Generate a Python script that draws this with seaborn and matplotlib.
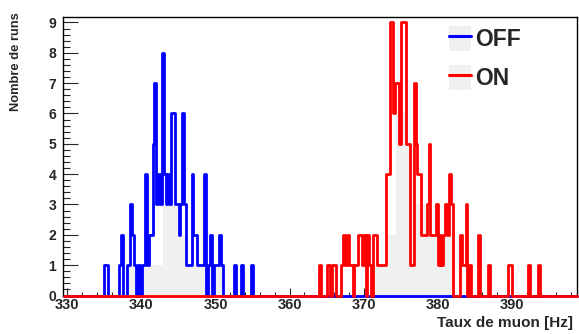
import numpy as np
import pandas as pd
import matplotlib.pyplot as plt
import seaborn as sns
from matplotlib.patches import Patch
from matplotlib.lines import Line2D
from matplotlib.ticker import MultipleLocator

# fine histograms: lower bin edge (Hz) and number of runs, 0.25 Hz bins
off_edge = [335.0, 335.25, 337.0, 337.25, 338.0, 338.25, 338.5, 338.75,
            339.0, 339.5, 340.0, 340.25, 340.5, 340.75,
            341.0, 341.25, 341.5, 341.75, 342.0, 342.25, 342.5, 342.75,
            343.0, 343.25, 343.5, 343.75, 344.0, 344.25, 344.5, 344.75,
            345.0, 345.25, 345.5, 345.75, 346.0, 346.25, 346.5, 346.75,
            347.0, 347.25, 347.5, 347.75, 348.0, 348.25, 348.5,
            349.0, 349.25, 349.75, 350.0, 350.25, 350.5, 350.75,
            352.5, 353.5, 354.75]
off_n = [1, 1, 1, 2, 1, 1, 3, 2,
         1, 1, 1, 1, 4, 1,
         2, 2, 5, 7, 3, 4, 3, 8,
         4, 3, 4, 3, 6, 6, 3, 3,
         2, 3, 6, 3, 1, 1, 1, 4,
         2, 2, 1, 1, 1, 1, 4,
         1, 2, 1, 1, 1, 2, 1,
         1, 1, 1]

on_edge = [364.0, 365.0, 365.25, 365.75, 366.0,
           367.0, 367.25, 367.5, 367.75, 368.0, 368.25, 368.75,
           369.0, 369.25, 369.5, 369.75, 370.0, 370.5, 370.75, 371.25, 371.5,
           371.75, 372.0, 372.25, 372.5, 372.75,
           373.0, 373.25, 373.5, 373.75, 374.0, 374.25, 374.5, 374.75,
           375.0, 375.25, 375.5, 375.75, 376.0, 376.25, 376.5, 376.75,
           377.0, 377.25, 377.5, 377.75, 378.0, 378.25, 378.5, 378.75,
           379.0, 379.25, 379.5, 379.75, 380.0, 380.25, 380.5, 380.75,
           381.0, 381.25, 381.5, 381.75, 383.0, 383.25, 383.5, 383.75,
           384.25, 385.5, 386.75, 389.5, 389.75, 392.25, 393.5]
on_n = [1, 1, 1, 1, 1,
        1, 2, 1, 2, 1, 1, 1,
        1, 2, 2, 1, 2, 2, 1, 2, 2,
        1, 1, 1, 1, 1,
        4, 4, 9, 9, 6, 7, 7, 5,
        9, 9, 9, 5, 5, 1, 1, 7,
        5, 4, 4, 2, 2, 2, 3, 5,
        2, 2, 2, 3, 1, 2, 1, 2,
        3, 2, 4, 3, 2, 1, 1, 3,
        1, 2, 1, 1, 1, 1, 1]

# light grey filled envelopes
off_fill_edges = [338.2, 342.9, 345.3, 346.3, 351.0]
off_fill_n = [1, 3, 2, 1]
on_fill_edges = [371.3, 373.1, 374.4, 376.0, 376.7, 378.5, 382.1]
on_fill_n = [1, 2, 6, 5, 3, 2]

sns.set_style('ticks')
plt.rcParams['font.family'] = ['Liberation Sans', 'DejaVu Sans']
plt.rcParams['font.weight'] = 'bold'

fig = plt.figure(figsize=(5.79, 3.34), dpi=100)
ax = fig.add_axes([63 / 579, 38.5 / 334, 514 / 579, 278.8 / 334])

edges = list(np.arange(329.5, 398.76, 0.25))
grey = '#f0f0f0'

for fe, fn in [(off_fill_edges, off_fill_n), (on_fill_edges, on_fill_n)]:
    fill_df = pd.DataFrame({'rate': [(a + b) / 2 for a, b in zip(fe[:-1], fe[1:])],
                            'runs': fn})
    sns.histplot(data=fill_df, x='rate', weights='runs', bins=fe, element='step',
                 fill=True, color=grey, alpha=1, linewidth=0, ax=ax)

off_df = pd.DataFrame({'rate': [e + 0.125 for e in off_edge], 'runs': off_n})
on_df = pd.DataFrame({'rate': [e + 0.125 for e in on_edge], 'runs': on_n})
sns.histplot(data=off_df, x='rate', weights='runs', bins=edges,
             element='step', fill=False, color='#0000ff', linewidth=2.0, ax=ax)
sns.histplot(data=on_df, x='rate', weights='runs', bins=edges,
             element='step', fill=False, color='#ff0000', linewidth=2.0, ax=ax)
for i, ln in enumerate(ax.lines):
    ln.set_clip_on(False)
    ln.set_zorder(3 + i)

ax.set_xlim(329.4, 398.8)
ax.set_ylim(0, 9.19)
ax.set_xlabel('')
ax.set_ylabel('')

ax.xaxis.set_major_locator(MultipleLocator(10))
ax.xaxis.set_minor_locator(MultipleLocator(2))
ax.yaxis.set_major_locator(MultipleLocator(1))
ax.yaxis.set_minor_locator(MultipleLocator(0.2))
ax.tick_params(which='both', direction='in', top=False, right=False, width=0.8)
ax.tick_params(axis='x', which='major', length=5.8, pad=2, labelsize=10.5)
ax.tick_params(axis='x', which='minor', length=2.9)
ax.tick_params(axis='y', which='major', length=10.8, pad=5, labelsize=10)
ax.tick_params(axis='y', which='minor', length=5.2)
for lab in ax.get_xticklabels() + ax.get_yticklabels():
    lab.set_fontweight('bold')
for sp in ax.spines.values():
    sp.set_linewidth(1.0)
    sp.set_color('black')

fig.text(16 / 579, 1 - 12 / 334, 'Nombre de runs', rotation=90, ha='center',
         va='top', fontsize=9.3, fontweight='bold')
fig.text(573 / 579, 1 - 323 / 334, 'Taux de muon [Hz]', ha='right',
         va='center', fontsize=11, fontweight='bold')

handles = [(Patch(facecolor=grey, edgecolor='none'), Line2D([], [], color='#0000ff', lw=2.2)),
           (Patch(facecolor=grey, edgecolor='none'), Line2D([], [], color='#ff0000', lw=2.2))]
ax.legend(handles=handles, labels=['OFF', 'ON'], loc='upper left',
          bbox_to_anchor=(0.751, 0.965), frameon=False,
          prop={'weight': 'bold', 'size': 16.5}, handlelength=0.95,
          handleheight=1.25, labelspacing=0.62, handletextpad=0.2,
          borderpad=0, borderaxespad=0)

fig.savefig('out.png', dpi=100)
